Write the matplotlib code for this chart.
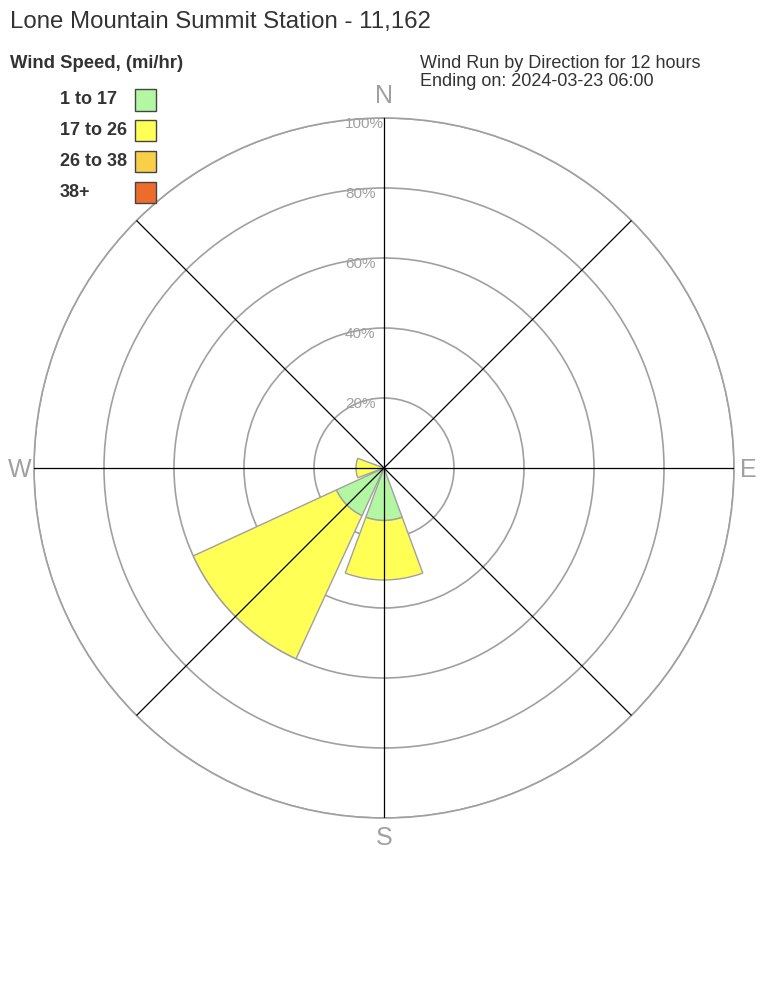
# Wind rose - Lone Mountain Summit Station

import numpy as np
import matplotlib.pyplot as plt
from matplotlib.patches import Rectangle
from matplotlib.transforms import ScaledTranslation

plt.rcParams['font.family'] = ['Liberation Sans', 'DejaVu Sans']

# Data (percent of wind run per direction)
directions = ['N', 'NE', 'E', 'SE', 'S', 'SW', 'W', 'NW']
dir_degrees = [0, 45, 90, 135, 180, 225, 270, 315]
speed_bins = ['1 to 17', '17 to 26', '26 to 38', '38+']
bin_colors = ['#b3f7a3', '#ffff55', '#f8cf48', '#ec6c2c']
run_1_17 = [0, 0, 0, 0, 15, 15, 0, 0]
run_17_26 = [0, 0, 0, 0, 17, 45, 8, 0]
run_26_38 = [0, 0, 0, 0, 0, 0, 0, 0]
run_38_up = [0, 0, 0, 0, 0, 0, 0, 0]
ring_values = [20, 40, 60, 80, 100]

W, H = 768, 1008
fig = plt.figure(figsize=(W / 100, H / 100), dpi=100)


def px(x, y):
    return x / W, 1 - y / H


# polar axes: center (384, 468), radius 350 px
ax = fig.add_axes([34 / W, 190 / H, 700 / W, 700 / H], projection='polar')
ax.set_theta_zero_location('N')
ax.set_theta_direction(-1)
ax.set_ylim(0, 100)
ax.set_rgrids(ring_values, labels=[''] * len(ring_values))
ax.set_thetagrids([])
ax.grid(True, axis='y', color='#a0a0a0', lw=1.2)
ax.spines['polar'].set_color('#a0a0a0')
ax.spines['polar'].set_linewidth(1.2)
ax.set_xticklabels([])

# stacked wedges
theta = np.deg2rad(dir_degrees)
width = np.deg2rad(40.5)
bottom = np.zeros(len(directions))
for vals, col in zip([run_1_17, run_17_26, run_26_38, run_38_up], bin_colors):
    vals = np.array(vals, dtype=float)
    m = vals > 0
    if m.any():
        ax.bar(theta[m], vals[m], width=width, bottom=bottom[m], color=col,
               edgecolor='#a0a0a0', linewidth=1, zorder=2)
    bottom = bottom + vals

# spokes on top of wedges
for d in dir_degrees:
    ax.plot([np.deg2rad(d)] * 2, [0, 100], color='black', lw=0.9, zorder=5)

# ring labels
off = ScaledTranslation(-39 / 100, -6 / 100, fig.dpi_scale_trans)
for r in ring_values:
    ax.text(0, r, f'{r}%', transform=ax.transData + off, ha='left', va='center',
            fontsize=11, color='#a0a0a0', zorder=6)

# compass letters
for lab, (x, y) in zip(['N', 'E', 'S', 'W'], [(384, 96), (748, 470), (384, 838), (20, 470)]):
    fig.text(*px(x, y), lab, ha='center', va='center', fontsize=18, color='#a0a0a0')

# titles
fig.text(*px(10, 22), 'Lone Mountain Summit Station - 11,162', ha='left', va='center',
         fontsize=17.3, color='#333333')
fig.text(*px(10, 63), 'Wind Speed, (mi/hr)', ha='left', va='center',
         fontsize=13.3, fontweight='bold', color='#333333')
fig.text(*px(420, 63), 'Wind Run by Direction for 12 hours', ha='left', va='center',
         fontsize=13, color='#333333')
fig.text(*px(420, 82), 'Ending on: 2024-03-23 06:00', ha='left', va='center',
         fontsize=13, color='#333333')

# legend
for i, (lab, col) in enumerate(zip(speed_bins, bin_colors)):
    yc = 100 + i * 30.7
    fig.text(*px(60, yc), lab, ha='left', va='center', fontsize=13,
             fontweight='bold', color='#333333')
    x0, y0 = px(135, yc + 10.5)
    fig.patches.append(Rectangle((x0, y0), 21 / W, 21 / H, transform=fig.transFigure,
                                 facecolor=col, edgecolor='#444444', lw=1))

fig.savefig('out.png', dpi=100, facecolor='white')
